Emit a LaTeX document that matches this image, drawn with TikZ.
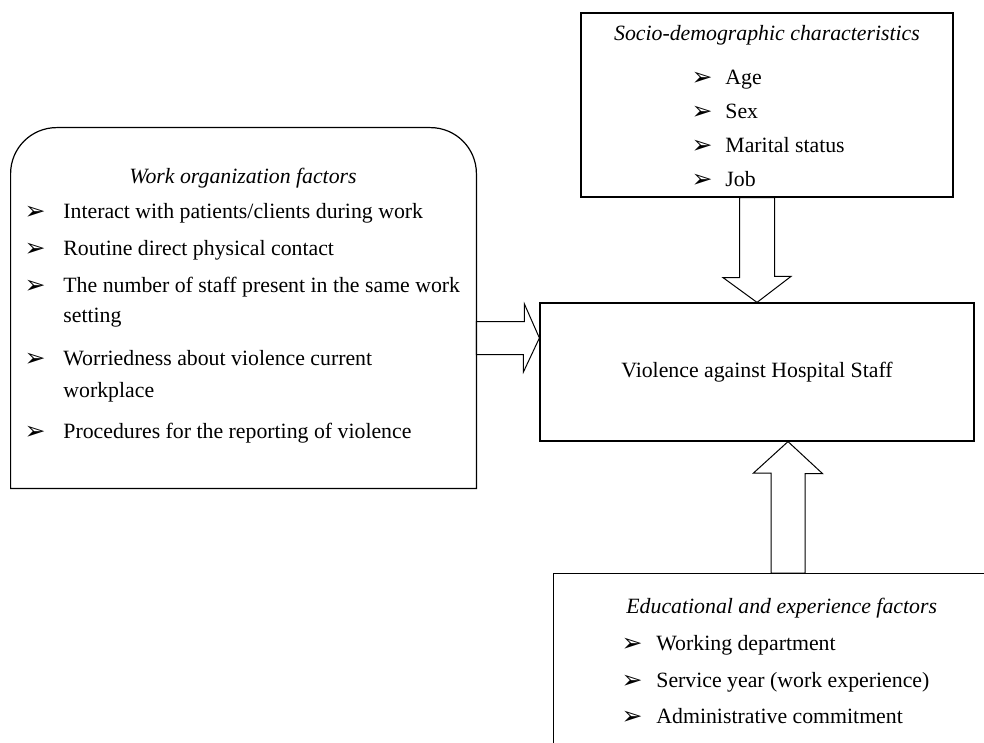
\documentclass[tikz,border=0pt]{standalone}
\usepackage{fontspec}
\setmainfont{Liberation Serif}
\newfontfamily\dingfont{DejaVu Sans}
\usetikzlibrary{calc,positioning}
\tikzset{
panel/.style={draw,line width=.6pt,inner sep=0pt},
fatarrow/.style={draw,line width=.5pt,line join=miter},
heading/.style={font=\fontsize{10.9}{13}\selectfont\itshape,inner sep=0pt,text height=8pt,text depth=2.5pt},
entry/.style={anchor=west,inner sep=0pt,text height=8pt,text depth=2.5pt},
bul/.style={font=\dingfont\fontsize{12.5}{12.5}\selectfont,inner sep=0pt}
}

\begin{document}
\begin{tikzpicture}[x=.5pt,y=-.5pt,every node/.style={font=\fontsize{10.9}{13}\selectfont}]
\useasboundingbox (0,0) rectangle (984,743);
\clip (0,0) rectangle (984,743);
% boxes
\node[panel,minimum width=186pt,minimum height=92pt](soc) at (767,105){};
\node[panel,minimum width=217pt,minimum height=69pt](vio) at (757,372){Violence against Hospital Staff};
\node[inner sep=0pt,minimum width=232.5pt,minimum height=180pt](wof) at (243.5,308){};
\node[panel,minimum width=230pt,minimum height=95pt,anchor=north west](edu) at (553,573){};
\draw[panel] (wof.south west) -- ([yshift=-23pt]wof.north west) arc[start angle=180,end angle=90,radius=23pt]
  -- ([xshift=-23pt]wof.north east) arc[start angle=90,end angle=0,radius=23pt] -- (wof.south east) -- cycle;
% socio-demographic
\node[heading](soct) at (767,35){Socio-demographic characteristics};
\foreach \y/\t [count=\i] in {79/Age,113/Sex,147/Marital status,181/Job}{
  \node[bul](sb\i) at (702,\y){➢};
  \node[entry](si\i) at (725,\y){\t};
}
% work organization
\node[heading](woft) at (243,178){Work organization factors};
\foreach \y/\t [count=\i] in {213/{Interact with patients/clients during work},250/Routine direct physical contact,
    287/The number of staff present in the same work,360/Worriedness about violence current,433/Procedures for the reporting of violence}{
  \node[bul](wb\i) at (35,\y){➢};
  \node[entry](wi\i) at (63,\y){\t};
}
\node[entry](wc3) at (63,317){setting};
\node[entry](wc4) at (63,392){workplace};
% educational
\node[heading,anchor=west](edut) at (626,608){Educational and experience factors};
\foreach \y/\t [count=\i] in {645/Working department,682/Service year (work experience),718/Administrative commitment}{
  \node[bul](eb\i) at (632,\y){➢};
  \node[entry](ei\i) at (656,\y){\t};
}
% block arrows
\coordinate (dtail) at (vio.north |- soc.south);
\draw[fatarrow] ($(dtail)+(-17.5,0)$) -- ++(0,80) -- ++(-16.5,0) -- (vio.north) -- ++(34,-26) -- ++(-16.5,0) -- ($(dtail)+(17.5,0)$) -- cycle;
\coordinate (utip) at ($(vio.south)+(31,0)$);
\coordinate (utail) at (utip |- edu.north);
\draw[fatarrow] ($(utail)+(-17,0)$) -- ++(0,-100) -- ++(-17.5,0) -- (utip) -- ++(34.5,32) -- ++(-17.5,0) -- ($(utail)+(17,0)$) -- cycle;
\coordinate (rtip) at ($(vio.west)+(0,-34)$);
\coordinate (rtail) at (wof.east |- rtip);
\draw[fatarrow] ($(rtail)+(0,-16.5)$) -- ++(48,0) -- ++(0,-17.5) -- (rtip) -- ++(-16,34) -- ++(0,-17.5) -- ($(rtail)+(0,16.5)$) -- cycle;
\end{tikzpicture}
\end{document}
